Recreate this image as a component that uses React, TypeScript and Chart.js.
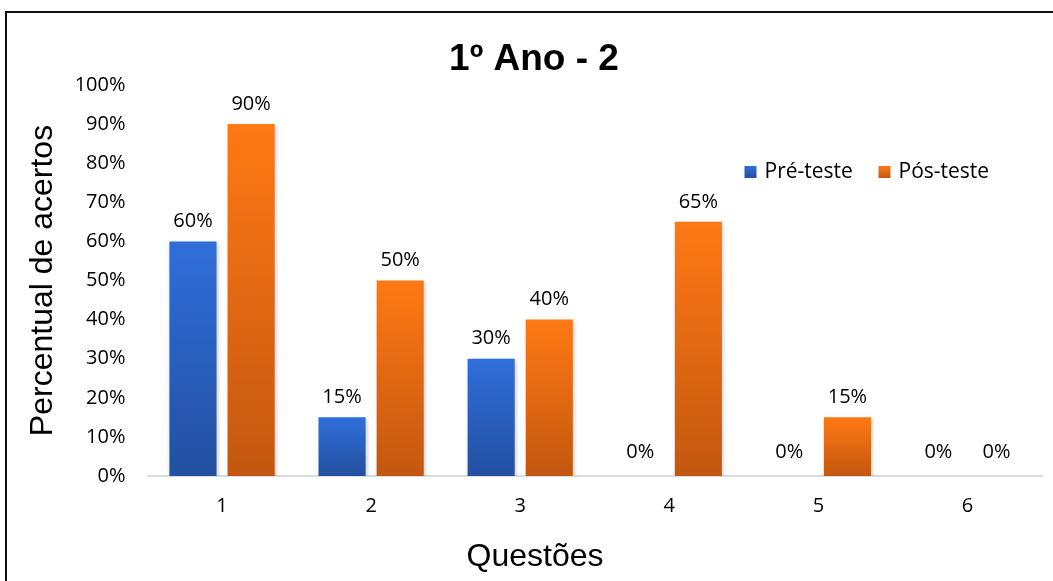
import React, { useEffect, useRef } from "react";
import { Chart, registerables } from "chart.js";

Chart.register(...registerables);

const categories = ["1", "2", "3", "4", "5", "6"];
const preTeste = [60, 15, 30, 0, 0, 0];
const posTeste = [90, 50, 40, 65, 15, 0];
const seriesNames = ["Pré-teste", "Pós-teste"];
const chartTitle = "1º Ano - 2";
const yTitle = "Percentual de acertos";
const xTitle = "Questões";

const W = 1053;
const H = 581;

const palettes = [
  { top: "#2F6EDA", bottom: "#2350A0" },
  { top: "#FF7914", bottom: "#C3570F" },
];

const FONT = "'Open Sans', 'Noto Sans', sans-serif";
const AX_FONT = "'Liberation Sans', Arial, sans-serif";

function gradientFor(ctx: any, idx: number) {
  const chart = ctx.chart;
  const y = chart.scales && chart.scales.y;
  const pal = palettes[idx];
  if (!y || ctx.type !== "data") return pal.top;
  const v = ctx.raw as number;
  const top = y.getPixelForValue(v);
  const base = y.getPixelForValue(0);
  if (!isFinite(top) || !isFinite(base) || base - top < 1) return pal.top;
  const g = chart.ctx.createLinearGradient(0, top, 0, base);
  g.addColorStop(0, pal.top);
  g.addColorStop(1, pal.bottom);
  return g;
}

const framePlugin = {
  id: "frame",
  beforeDraw(chart: any) {
    const ctx = chart.ctx;
    ctx.save();
    ctx.fillStyle = "#fff";
    ctx.fillRect(0, 0, chart.width, chart.height);
    ctx.fillStyle = "#111";
    ctx.fillRect(5, 11, 2, chart.height);
    ctx.fillRect(5, 11, chart.width, 2);
    ctx.textAlign = "center";
    ctx.textBaseline = "middle";
    ctx.fillStyle = "#000";
    ctx.font = `bold 37px ${AX_FONT}`;
    ctx.fillText(chartTitle, 534, 60);
    ctx.font = `32px ${AX_FONT}`;
    ctx.fillText(xTitle, 535, 557);
    ctx.restore();
  },
};

const shadowPlugin = {
  id: "barShadow",
  beforeDatasetsDraw(chart: any) {
    const ctx = chart.ctx;
    ctx.save();
    ctx.shadowColor = "rgba(0,0,0,0.22)";
    ctx.shadowBlur = 4;
    ctx.shadowOffsetX = 1;
    ctx.shadowOffsetY = 2;
  },
  afterDatasetsDraw(chart: any) {
    chart.ctx.restore();
  },
};

const labelsPlugin = {
  id: "valueLabels",
  afterDatasetsDraw(chart: any) {
    const ctx = chart.ctx;
    ctx.save();
    ctx.font = `20px ${FONT}`;
    ctx.fillStyle = "#000";
    ctx.textAlign = "center";
    ctx.textBaseline = "middle";
    chart.data.datasets.forEach((ds: any, di: number) => {
      const meta = chart.getDatasetMeta(di);
      meta.data.forEach((el: any, i: number) => {
        const v = ds.data[i] as number;
        const off = v === 0 ? 24 : 20;
        ctx.fillText(`${v}%`, el.x, el.y - off);
      });
    });
    // legend
    const ca = chart.chartArea;
    const lx = [ca.left + 597, ca.left + 731];
    const ly = 172;
    ctx.font = `21px ${FONT}`;
    chart.data.datasets.forEach((ds: any, di: number) => {
      const g = ctx.createLinearGradient(0, ly - 6, 0, ly + 6);
      g.addColorStop(0, palettes[di].top);
      g.addColorStop(1, palettes[di].bottom);
      ctx.fillStyle = g;
      ctx.fillRect(lx[di], ly - 6, 12, 12);
      ctx.fillStyle = "#000";
      ctx.textAlign = "left";
      ctx.fillText(ds.label, lx[di] + 20, ly);
    });
    ctx.restore();
  },
};

export default function App() {
  const ref = useRef<HTMLCanvasElement | null>(null);
  useEffect(() => {
    if (!ref.current) return;
    const chart = new Chart(ref.current, {
      type: "bar",
      data: {
        labels: categories,
        datasets: [
          {
            label: seriesNames[0],
            data: preTeste,
            backgroundColor: (c: any) => gradientFor(c, 0),
            categoryPercentage: 0.78,
            barPercentage: 0.81,
          },
          {
            label: seriesNames[1],
            data: posTeste,
            backgroundColor: (c: any) => gradientFor(c, 1),
            categoryPercentage: 0.78,
            barPercentage: 0.81,
          },
        ],
      },
      options: {
        responsive: false,
        animation: false,
        devicePixelRatio: 1,
        layout: { padding: { top: 85, right: 11, left: 0, bottom: 0 } },
        plugins: {
          legend: { display: false },
          title: { display: false },
          tooltip: { enabled: false },
        },
        scales: {
          x: {
            grid: { display: false, drawTicks: false },
            border: { display: true, color: "#D9DDE3", width: 2 },
            ticks: {
              color: "#000",
              font: { family: FONT, size: 20 },
              padding: 18,
            },
            title: { display: false },
            afterFit(scale: any) {
              scale.height = 105;
            },
          },
          y: {
            min: 0,
            max: 100,
            grid: { display: false, drawTicks: false },
            border: { display: false },
            ticks: {
              stepSize: 10,
              color: "#000",
              font: { family: FONT, size: 20 },
              padding: 22,
              callback: (v: any) => `${v}%`,
            },
            title: {
              display: true,
              text: yTitle,
              color: "#000",
              font: { family: AX_FONT, size: 32, lineHeight: 1.2 },
              padding: { top: 24, bottom: 0 },
            },
            afterFit(scale: any) {
              scale.width = 147.5;
            },
          },
        },
      },
      plugins: [framePlugin, shadowPlugin, labelsPlugin],
    } as any);
    return () => chart.destroy();
  }, []);
  return (
    <div style={{ position: "fixed", left: 0, top: 0, width: W, height: H, background: "#fff" }}>
      <canvas ref={ref} width={W} height={H} style={{ display: "block" }} />
    </div>
  );
}
